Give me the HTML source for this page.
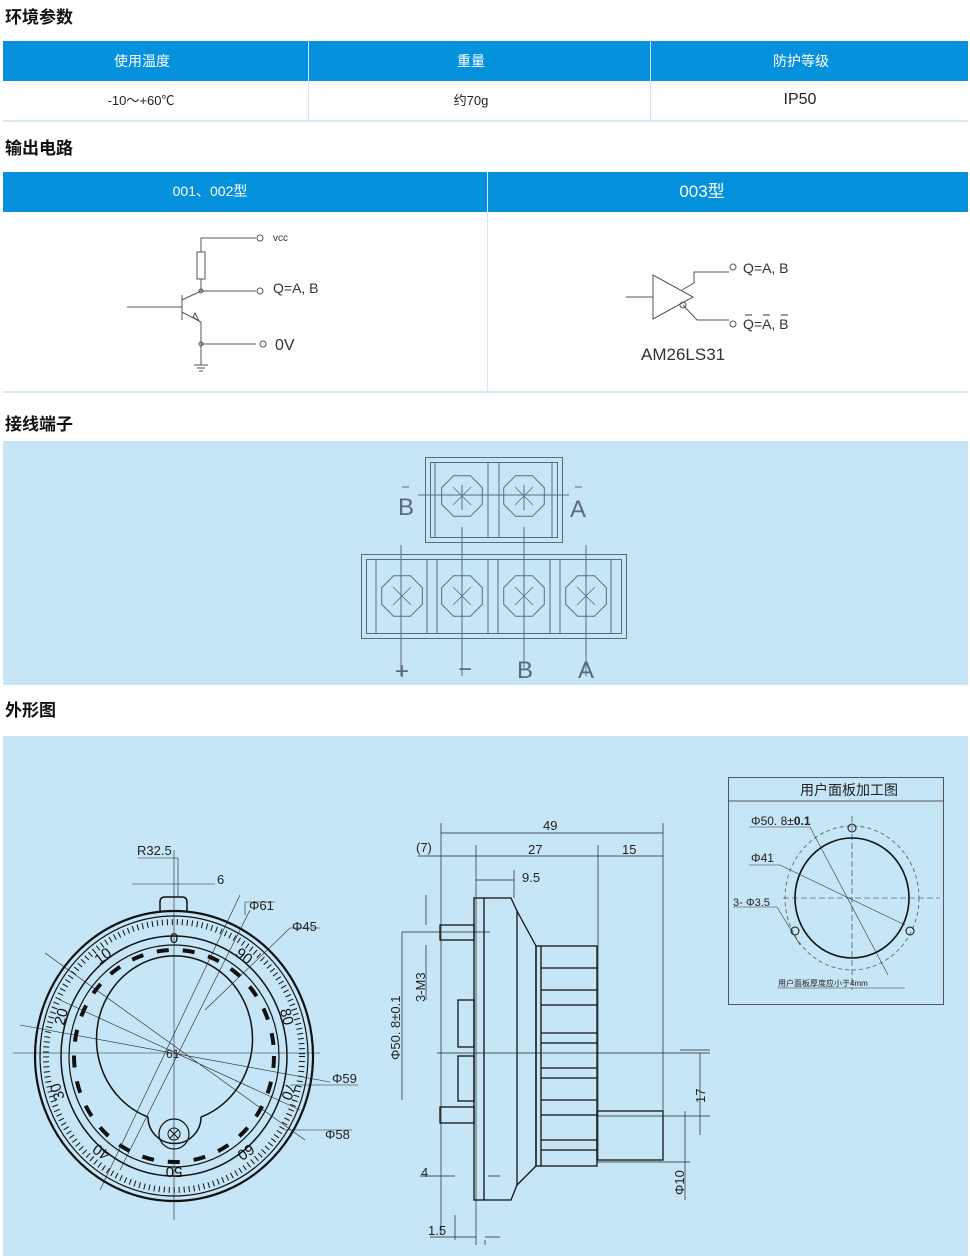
<!DOCTYPE html>
<html><head><meta charset="utf-8"><style>
body{margin:0;background:#fff;width:970px;height:1256px;overflow:hidden;font-family:"Liberation Sans","Noto Sans CJK SC",sans-serif}
svg{display:block}
</style></head><body>
<svg width="970" height="1256" viewBox="0 0 970 1256" xmlns="http://www.w3.org/2000/svg" font-family="Liberation Sans, Noto Sans CJK SC, sans-serif">
<defs>
<g id="oct"><polygon points="20.3,8.4 8.4,20.3 -8.4,20.3 -20.3,8.4 -20.3,-8.4 -8.4,-20.3 8.4,-20.3 20.3,-8.4" fill="none" stroke="#5a6a7a" stroke-width="1"/><path d="M-9,-9L9,9M9,-9L-9,9" stroke="#5a6a7a" stroke-width="0.8"/></g>
</defs>
<!-- Section 1 -->
<text x="5" y="23" font-size="17" font-weight="bold" fill="#111">环境参数</text>
<rect x="3" y="41" width="965" height="40" fill="#0591db"/>
<line x1="308.5" y1="41" x2="308.5" y2="121" stroke="#cfe6f3"/>
<line x1="650.5" y1="41" x2="650.5" y2="121" stroke="#cfe6f3"/>
<line x1="3" y1="121" x2="968" y2="121" stroke="#d6e9f3" stroke-width="2"/>
<g font-size="14" fill="#fff" text-anchor="middle"><text x="142" y="66">使用温度</text><text x="471" y="66">重量</text><text x="801" y="66">防护等级</text></g>
<g fill="#222" text-anchor="middle"><text x="141" y="105" font-size="13">-10～+60℃</text><text x="471" y="105" font-size="13">约70g</text><text x="800" y="104" font-size="16">IP50</text></g>
<!-- Section 2 -->
<text x="5" y="154" font-size="17" font-weight="bold" fill="#111">输出电路</text>
<rect x="3" y="172" width="965" height="40" fill="#0591db"/>
<line x1="487.5" y1="172" x2="487.5" y2="392" stroke="#d6e9f3"/>
<line x1="3" y1="392" x2="968" y2="392" stroke="#d6e9f3" stroke-width="2"/>
<text x="210" y="196" font-size="14" fill="#fff" text-anchor="middle">001、002型</text>
<text x="702" y="197" font-size="17" fill="#fff" text-anchor="middle">003型</text>
<g stroke="#555" fill="none" stroke-width="1">
<path d="M256,238H201V252M201,279V291H256M127,307H182M182,295V320M182,300L201,291M182,312L201,322V344H256M201,344V365M194,365H208M197,368H205M199,371H203"/>
<rect x="197" y="252" width="8" height="27"/>
<circle cx="260" cy="238" r="3"/><circle cx="260" cy="291" r="3"/><circle cx="263" cy="344" r="3"/>
<circle cx="201" cy="291" r="2"/><circle cx="201" cy="344" r="2"/>
<path d="M193,317L199,321L195,313Z"/>
<path d="M626,297H653M653,275V319L693,297Z M682,290L694,283V272H729M683,305L697,320H729"/>
<circle cx="683" cy="305" r="3"/><circle cx="733" cy="267" r="3"/><circle cx="733" cy="324" r="3"/>
</g>
<g fill="#333"><text x="273" y="241" font-size="10">vcc</text><text x="273" y="293" font-size="14">Q=A, B</text><text x="275" y="350" font-size="16">0V</text>
<text x="743" y="273" font-size="14">Q=A, B</text><text x="743" y="329" font-size="14">Q=A, B</text><text x="641" y="360" font-size="17">AM26LS31</text></g>
<path d="M745,315h7M763,315h7M781,315h7" stroke="#333"/>
<!-- Section 3 -->
<text x="5" y="430" font-size="17" font-weight="bold" fill="#111">接线端子</text>
<rect x="3" y="441" width="965" height="244" fill="#c6e6f8"/>
<g stroke="#5a6a7a" fill="none" stroke-width="1">
<rect x="425.5" y="457.5" width="137" height="85"/><rect x="430.5" y="462.5" width="127" height="75"/>
<path d="M435,462V537M488,462V537M499,462V537M552,462V537"/>
<rect x="361.5" y="554.5" width="265" height="84"/><rect x="366.5" y="559.5" width="255" height="74"/>
<path d="M376,559V634M427,559V634M437,559V634M488,559V634M498,559V634M550,559V634M560,559V634M611,559V634"/>
<path d="M418,495H569M462,527V545M462,545V676M524,527V545M524,545V668M401,545V676M586,545V676"/>
<path d="M462,485V510M524,485V510"/>
</g>
<use href="#oct" x="462" y="496"/><use href="#oct" x="524" y="496"/>
<use href="#oct" x="402" y="596"/><use href="#oct" x="462" y="596"/><use href="#oct" x="524" y="596"/><use href="#oct" x="586" y="596"/>
<g fill="#5a6a7a" font-size="24" text-anchor="middle" font-weight="300"><text x="406" y="515">B</text><text x="578" y="517">A</text><text x="402" y="679">+</text><text x="465" y="677">−</text><text x="525" y="678">B</text><text x="586" y="678">A</text></g>
<path d="M402,487h7M575,487h7" stroke="#5a6a7a"/>
<!-- Section 4 -->
<text x="5" y="716" font-size="17" font-weight="bold" fill="#111">外形图</text>
<rect x="3" y="736" width="965" height="520" fill="#c6e6f8"/>
<!-- dial -->
<g stroke="#111" fill="none">
<path d="M160,912V902Q160,897 165,897H182Q187,897 187,902V912" stroke-width="1.5"/>
<ellipse cx="174" cy="1056" rx="139" ry="145" stroke-width="2.2"/>
<ellipse cx="174" cy="1056" rx="134" ry="140" stroke-width="1.2"/>
<ellipse cx="174" cy="1056" rx="128" ry="134" stroke-width="6" stroke-dasharray="1 4"/>
<ellipse cx="174" cy="1056" rx="113" ry="120" stroke-width="1.5"/>
<ellipse cx="174" cy="1056" rx="105" ry="111" stroke-width="1.2"/>
<ellipse cx="174" cy="1056" rx="100" ry="106" stroke-width="4" stroke-dasharray="12 14"/>
<path d="M148,1117 A78,83 0 1 1 201,1117" stroke-width="1.5"/>
<path d="M148,1117 A20,20 0 1 0 201,1117" stroke-width="1.5"/>
<circle cx="174" cy="1134" r="15" stroke-width="1.2"/><circle cx="174" cy="1134" r="6"/><path d="M170,1130l8,8M178,1130l-8,8"/>
</g>
<g stroke="#222" stroke-width="0.6" fill="none">
<path d="M174,850V1220M13,1053H320M20,1025L330,1082M45,953L305,1140M240,895L100,1190M250,910L120,1170M60,1000L300,1110"/>
<path d="M138,858H178V897M132,884H200M200,884H215M245,915V902H275M205,1010L290,928H320M290,1085H358M285,1130H352"/>
</g>
<g font-size="13" fill="#222"><text x="137" y="855">R32.5</text><text x="217" y="884">6</text><text x="249" y="910">Φ61</text><text x="292" y="931">Φ45</text><text x="332" y="1083">Φ59</text><text x="325" y="1139">Φ58</text><text x="166" y="1058" font-size="12">61</text></g>
<g font-size="15" fill="#111" text-anchor="middle">
<text x="174" y="943">0</text>
<text transform="translate(106,960) rotate(-38)">10</text>
<text transform="translate(66,1018) rotate(-75)">20</text>
<text transform="translate(62,1090) rotate(-110)">30</text>
<text transform="translate(104,1148) rotate(-145)">40</text>
<text transform="translate(174,1167) rotate(180)">50</text>
<text transform="translate(243,1148) rotate(145)">60</text>
<text transform="translate(284,1090) rotate(110)">70</text>
<text transform="translate(282,1018) rotate(75)">80</text>
<text transform="translate(241,960) rotate(38)">90</text>
</g>
<!-- side view -->
<g stroke="#111" fill="none" stroke-width="1.3">
<rect x="474" y="898" width="10" height="302"/>
<path d="M484,898H511L517,911V1185L511,1200H484"/>
<path d="M517,911L536,946V1166L517,1185"/>
<rect x="536" y="946" width="61" height="220"/>
<path d="M541,968H597M541,990H597M541,1005H597M541,1033H597M541,1043H597M541,1068H597M541,1078H597M541,1100H597M541,1115H597M541,1140H597M541,1150H597M541,946V1166"/>
<rect x="597" y="1111" width="66" height="49"/>
<rect x="440" y="925" width="34" height="15"/><rect x="440" y="1107" width="34" height="16"/>
<rect x="458" y="1000" width="16" height="47"/><rect x="458" y="1056" width="16" height="45"/>
</g>
<g stroke="#222" stroke-width="0.7" fill="none">
<path d="M441,823V1235M476,845V1245M598,845V1160M663,823V1115M514,870V898M437,1053H710M455,1215V1240M485,1240V1245"/>
<path d="M441,833H663M418,856H441M441,856H663M476,880H514M402,932H490M402,932V1100M426,925V895M426,945V1000M597,1116H710M597,1162H690M680,1050H710M700,1053V1135M685,1111V1200M420,1176H455M488,1176H500M430,1237H476M485,1237H500"/>
</g>
<g font-size="13" fill="#222"><text x="543" y="830">49</text><text x="416" y="852">(7)</text><text x="528" y="854">27</text><text x="622" y="854">15</text><text x="522" y="882">9.5</text><text x="421" y="1177">4</text><text x="428" y="1235">1.5</text>
<text transform="translate(400,1060) rotate(-90)">Φ50. 8±0.1</text><text transform="translate(425,1002) rotate(-90)">3-M3</text>
<text transform="translate(705,1103) rotate(-90)">17</text><text transform="translate(684,1195) rotate(-90)">Φ10</text></g>
<!-- panel -->
<g stroke="#555" fill="none"><rect x="728.5" y="777.5" width="215" height="227"/><path d="M728,801H943"/></g>
<text x="849" y="795" font-size="14" fill="#222" text-anchor="middle">用户面板加工图</text>
<g stroke="#111" fill="none">
<ellipse cx="852" cy="898" rx="57" ry="60" stroke-width="1.6"/>
<ellipse cx="852" cy="898" rx="67" ry="72" stroke-width="0.8" stroke-dasharray="4 3" stroke="#555"/>
<circle cx="852" cy="828" r="4"/><circle cx="795" cy="931" r="4"/><circle cx="910" cy="931" r="4"/>
</g>
<g stroke="#333" stroke-width="0.6" fill="none" stroke-dasharray="6 3"><path d="M852,816V990M783,898H940"/></g>
<g stroke="#333" stroke-width="0.6" fill="none"><path d="M749,827H810L888,975M749,865H780L905,925M733,907H777L800,945M778,988H905"/></g>
<g fill="#222"><text x="751" y="825" font-size="12">Φ50. 8±<tspan font-weight="bold">0.1</tspan></text><text x="751" y="862" font-size="12">Φ41</text><text x="733" y="906" font-size="11">3- Φ3.5</text><text x="778" y="986" font-size="8">用户面板厚度应小于4mm</text></g>
</svg>
</body></html>
